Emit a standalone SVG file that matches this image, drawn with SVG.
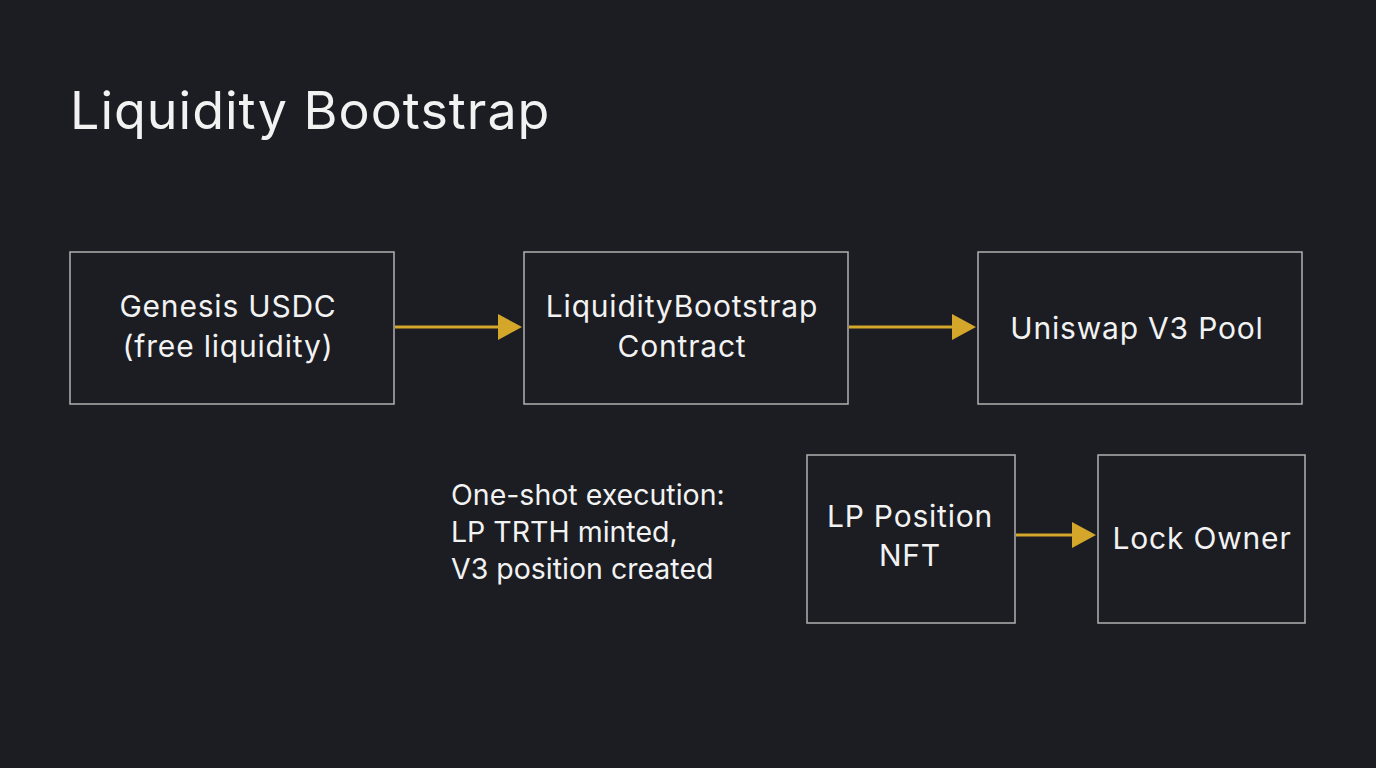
<svg xmlns="http://www.w3.org/2000/svg" width="1376" height="768" viewBox="0 0 1376 768">
<defs>
<style>
.box{fill:none;stroke:#b0b0b0;stroke-width:1.5}
.t{font-family:Inter,"Noto Sans",sans-serif;fill:#f2f2f2;font-size:30px;letter-spacing:0.8px}
.c{text-anchor:middle}
.n{font-size:28.5px;letter-spacing:0px}
.con{stroke:#d4a62a;stroke-width:3;fill:none}
</style>
</defs>
<rect width="1376" height="768" fill="#1b1d22"/>
<text x="70" y="129" class="t" style="font-size:52px;letter-spacing:1px">Liquidity Bootstrap</text>
<g id="connectors">
<line x1="395" y1="327" x2="500" y2="327" class="con"/>
<path d="M498,314 L522,327 L498,340 Z" fill="#d4a62a"/>
<line x1="849" y1="327" x2="954" y2="327" class="con"/>
<path d="M952,314 L976,327 L952,340 Z" fill="#d4a62a"/>
<line x1="1016" y1="535" x2="1074" y2="535" class="con"/>
<path d="M1072,522 L1096,535 L1072,548 Z" fill="#d4a62a"/>
</g>
<g id="genesis"><rect x="70" y="252" width="324" height="152" class="box"/>
<text x="228" y="317" class="t c">Genesis USDC</text><text x="228" y="357" class="t c">(free liquidity)</text></g>
<g id="contract"><rect x="524" y="252" width="324" height="152" class="box"/>
<text x="682" y="317" class="t c">LiquidityBootstrap</text><text x="682" y="357" class="t c">Contract</text></g>
<g id="pool"><rect x="978" y="252" width="324" height="152" class="box"/>
<text x="1137" y="339" class="t c">Uniswap V3 Pool</text></g>
<g id="note"><text x="451" y="505" class="t n">One-shot execution:</text><text x="451" y="542" class="t n">LP TRTH minted,</text><text x="451" y="579" class="t n">V3 position created</text></g>
<g id="nft"><rect x="807" y="455" width="208" height="168" class="box"/>
<text x="910" y="527" class="t c">LP Position</text><text x="910" y="566" class="t c">NFT</text></g>
<g id="lock"><rect x="1098" y="455" width="207" height="168" class="box"/>
<text x="1202" y="549" class="t c">Lock Owner</text></g>
</svg>
